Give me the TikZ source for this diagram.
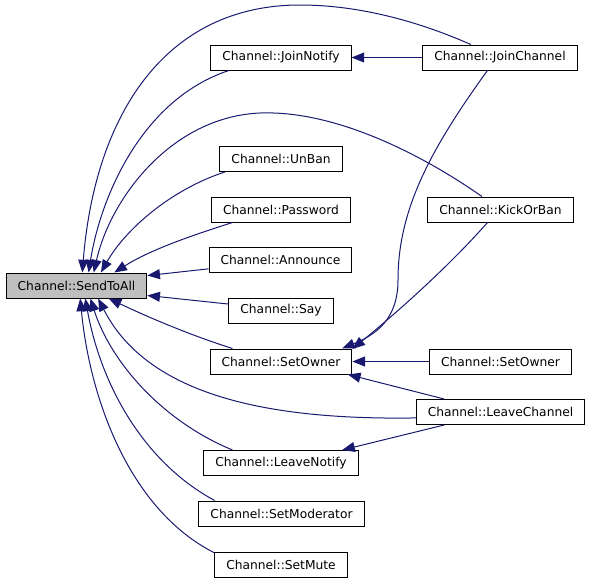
\documentclass[tikz,border=0pt]{standalone}
\usepackage{fontspec}
\setmainfont{DejaVu Sans}
\usetikzlibrary{arrows.meta}
\definecolor{edgeblue}{RGB}{25,25,112}
\definecolor{rootgray}{RGB}{191,191,191}

\begin{document}
\begin{tikzpicture}[x=0.75pt,y=-0.75pt,
  func/.style={draw=black,line width=0.75pt,fill=white,minimum height=18.75pt,
    inner xsep=8.6pt,inner ysep=0pt,font=\fontsize{9.2}{11}\selectfont},
  edge/.style={edgeblue,line width=0.75pt,-{Triangle[length=9.5pt,width=7.5pt]}}]

\useasboundingbox (0,0) rectangle (592,583);

% called function
\node[func,fill=rootgray] (send) at (76.5,285.5) {Channel::SendToAll};

% direct callers
\node[func] (joinnotify) at (281,57.5) {Channel::JoinNotify};
\node[func] (unban) at (281,159) {Channel::UnBan};
\node[func] (password) at (281,209.5) {Channel::Password};
\node[func] (announce) at (280.5,260) {Channel::Announce};
\node[func] (say) at (281,310.5) {Channel::Say};
\node[func] (setowner) at (281,361.5) {Channel::SetOwner};
\node[func] (leavenotify) at (281,463) {Channel::LeaveNotify};
\node[func] (setmoderator) at (281.5,513.5) {Channel::SetModerator};
\node[func] (setmute) at (281,564.5) {Channel::SetMute};

% second column
\node[func] (joinchannel) at (500,57.5) {Channel::JoinChannel};
\node[func] (kickorban) at (500.5,209.5) {Channel::KickOrBan};
\node[func] (setowner2) at (500.5,361.5) {Channel::SetOwner};
\node[func] (leavechannel) at (500.5,412) {Channel::LeaveChannel};

% edges into SendToAll
\draw[edge] (joinchannel.156) .. controls (420,22) and (360,5) .. (300,5)
  .. controls (165,5) and (95,115) .. (send.66);
\draw[edge] (joinnotify.194) .. controls (140,100) and (100,200) .. (send.47);
\draw[edge] (kickorban.145) .. controls (430,160) and (340,110) .. (260,113)
  .. controls (170,117) and (110,200) .. (send.37);
\draw[edge] (unban.193) .. controls (170,190) and (125,230) .. (send.28);
\draw[edge] (password.195) .. controls (190,236) and (150,250) .. (send.19);
\draw[edge] (announce.187) -- (send.8);
\draw[edge] (say.173) -- (send.-8);
\draw[edge] (setowner.165) .. controls (190,335) and (150,318) .. (send.-22);
\draw[edge] (leavechannel.184) .. controls (280,420) and (150,400) .. (send.-31);
\draw[edge] (leavenotify.165) .. controls (160,420) and (110,360) .. (send.-43);
\draw[edge] (setmoderator.169) .. controls (140,460) and (100,380) .. (send.-56);
\draw[edge] (setmute.170) .. controls (130,510) and (90,400) .. (send.-74);

% edges between callers
\draw[edge] (joinchannel) -- (joinnotify);
\draw[edge] (joinchannel.226) .. controls (430,150) and (398,210) .. (398,280)
  .. controls (398,320) and (375,335) .. (setowner.12);
\draw[edge] (kickorban.225) .. controls (450,265) and (400,310) .. (setowner.10);
\draw[edge] (setowner2) -- (setowner);
\draw[edge] (leavechannel.167) -- (setowner.-11);
\draw[edge] (leavechannel.193) -- (leavenotify.12);

\end{tikzpicture}
\end{document}
